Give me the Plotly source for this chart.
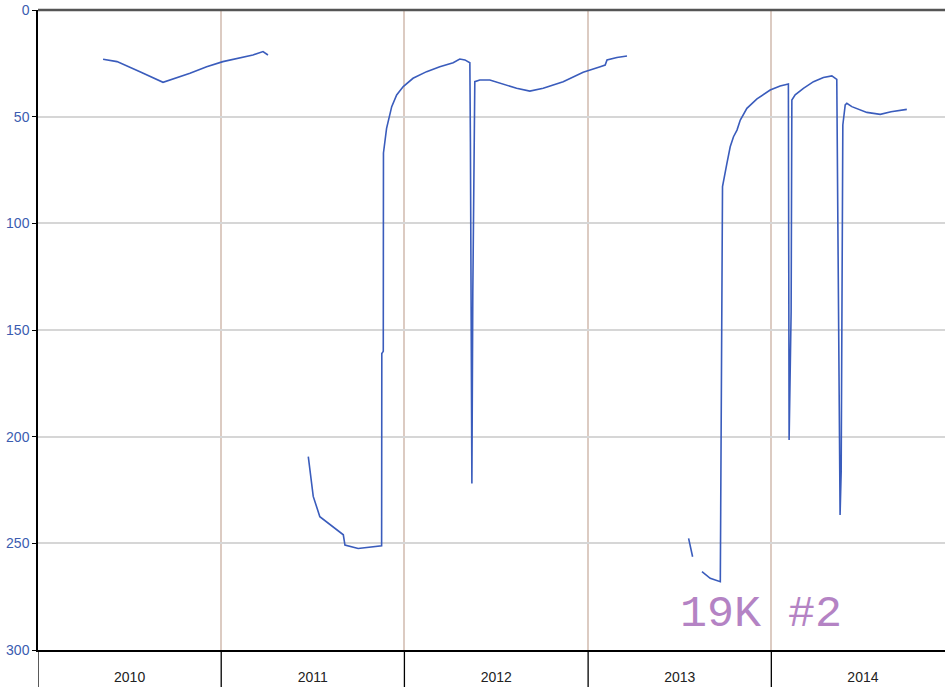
import pandas as pd
import plotly.graph_objects as go

# Readings: decimal year and value; None separates unconnected runs
years = [
    2010.355, 2010.431, 2010.556, 2010.682, 2010.829, 2010.920, 2011.009, 2011.173, 2011.228, 2011.255,
    None,
    2011.475, 2011.485, 2011.502, 2011.538, 2011.666, 2011.675, 2011.747, 2011.875, 2011.876, 2011.884,
    2011.885, 2011.902, 2011.930, 2011.957, 2011.993, 2012.047, 2012.121, 2012.193, 2012.266, 2012.302,
    2012.330, 2012.357, 2012.360, 2012.368, 2012.373, 2012.384, 2012.411, 2012.466, 2012.538, 2012.612,
    2012.684, 2012.757, 2012.866, 2012.975, 2013.066, 2013.093, 2013.103, 2013.157, 2013.212,
    None,
    2013.548, 2013.570,
    None,
    2013.621, 2013.666, 2013.721, 2013.726, 2013.733, 2013.757, 2013.775, 2013.793, 2013.812, 2013.830,
    2013.866, 2013.921, 2013.993, 2014.048, 2014.093, 2014.097, 2014.108, 2014.112, 2014.130, 2014.175,
    2014.230, 2014.284, 2014.330, 2014.357, 2014.370, 2014.375, 2014.381, 2014.390, 2014.403, 2014.412,
    2014.439, 2014.521, 2014.594, 2014.653, 2014.739, 2014.775,
]
values = [
    23.1, 24.2, 28.9, 33.9, 29.7, 26.6, 24.2, 21.1, 19.5, 21.1,
    None,
    209.4, 216.4, 228.0, 237.5, 246.0, 250.8, 252.4, 251.1, 161.0, 160.0,
    67.0, 55.5, 45.3, 39.8, 35.9, 32.0, 28.9, 26.6, 24.7, 23.0,
    23.4, 24.7, 62.0, 222.0, 133.0, 33.6, 32.8, 32.8, 34.7, 36.7,
    38.0, 36.7, 33.6, 29.2, 26.6, 25.8, 23.4, 22.3, 21.6,
    None,
    247.7, 256.3,
    None,
    263.3, 266.4, 268.0, 181.3, 82.8, 71.9, 64.1, 59.4, 56.3, 51.6,
    46.1, 41.7, 37.5, 35.6, 34.7, 201.6, 141.4, 42.2, 39.8, 36.7,
    33.6, 31.6, 30.9, 32.5, 195.3, 236.7, 216.4, 53.9, 44.5, 43.7,
    45.3, 48.0, 48.9, 47.7, 46.6,
]
label_text = "19K #2"
y_ticks = [0, 50, 100, 150, 200, 250, 300]
year_starts = ["2010-01-01", "2011-01-01", "2012-01-01", "2013-01-01", "2014-01-01"]


def to_date(y):
    if y is None:
        return None
    base = pd.Timestamp(f"{int(y)}-01-01")
    return base + pd.Timedelta(days=(y - int(y)) * 365.25)


dates = [to_date(y) for y in years]

fig = go.Figure()
fig.add_trace(go.Scatter(
    x=dates, y=values, mode="lines",
    line=dict(color="#3a5cbc", width=1.6),
    connectgaps=False, showlegend=False, hoverinfo="skip",
))

fig.update_layout(
    width=945, height=687,
    margin=dict(l=38, r=0, t=10, b=37),
    paper_bgcolor="white", plot_bgcolor="white",
    font=dict(family="Liberation Sans, Arial, sans-serif"),
    showlegend=False,
)

fig.update_xaxes(
    type="date",
    range=["2010-01-01", "2014-12-13"],
    tick0="2010-01-01", dtick="M12", tickformat="%Y",
    ticklabelmode="period",
    ticks="", ticklabelstandoff=13,
    tickfont=dict(size=14, color="#222222"),
    showgrid=True, gridcolor="#dccbc2", gridwidth=1.5,
    showline=True, linecolor="black", linewidth=1.5,
    zeroline=False, automargin=False,
)

fig.update_yaxes(
    range=[300, 0],
    tickvals=y_ticks,
    ticks="outside", ticklen=4, tickcolor="black",
    tickfont=dict(size=14, color="#3b5cb0"),
    showgrid=True, gridcolor="#d6d6d6", gridwidth=1.5,
    showline=True, linecolor="black", linewidth=1.5,
    zeroline=False, automargin=False,
)

# year-boundary tick marks hanging below the x axis
for d in year_starts:
    fig.add_shape(type="line", xref="x", yref="paper", x0=d, x1=d, y0=0, y1=-0.06,
                  line=dict(color="black", width=1.3), layer="above")

fig.add_shape(type="line", xref="paper", yref="paper", x0=0, x1=1, y0=1, y1=1,
              line=dict(color="#555555", width=2.5))

fig.add_annotation(
    text=label_text, xref="paper", yref="paper", x=0.797, y=0.056,
    showarrow=False, xanchor="center", yanchor="middle",
    font=dict(family="Liberation Mono, Courier New, monospace", size=45, color="#b483c4"),
)

fig.write_html("out.html", config={"displayModeBar": False},
               post_script="document.body.style.margin='0';")
